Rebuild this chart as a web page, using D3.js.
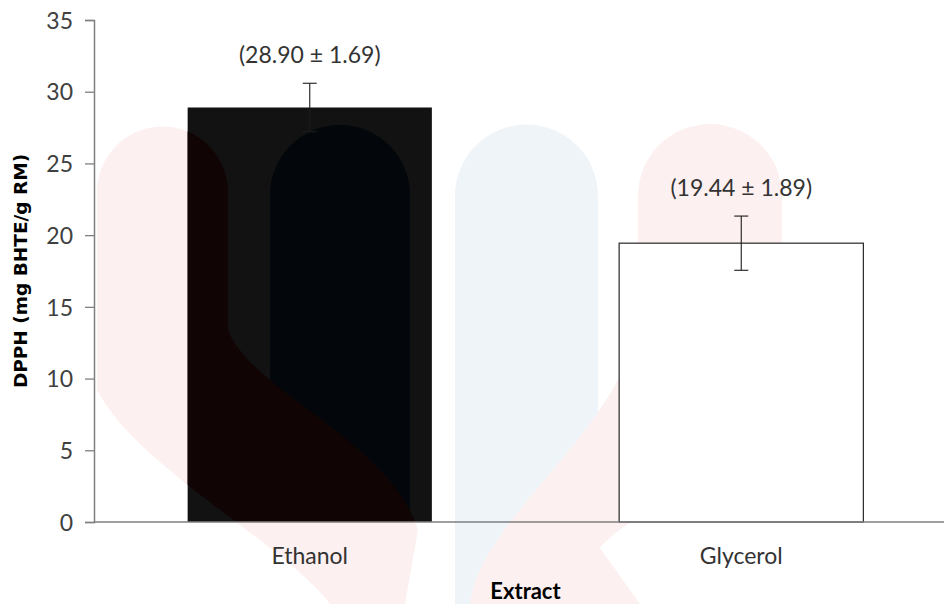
<!DOCTYPE html>
<html lang="en">
<head>
  <meta charset="UTF-8">
  <title>DPPH</title>
  <script src="https://cdn.jsdelivr.net/npm/d3@7"></script>
  <style>
    body{ margin:0; background:#fff; }
    .tick text{ font-family: Lato, "Open Sans", sans-serif; font-size:23px; fill:#404040; }
    .lbl{ font-family: Lato, "Open Sans", sans-serif; font-size:23px; fill:#333; }
  </style>
</head>
<body>
  <svg></svg>
  <script>

  var extracts = ["Ethanol", "Glycerol"],
    means = [28.90, 19.44],
    sds = [1.69, 1.89],
    fills = ["#121212", "#ffffff"],
    yTicks = [0, 5, 10, 15, 20, 25, 30, 35];

  var W = 944, H = 604,
    padL = 94, padT = 20, padB = 522, padR = 957;

  var svg = d3.select("svg").attr("width", W).attr("height", H);

  var x = d3.scaleBand().domain(extracts).range([padL, padR])
      .paddingInner(0.434).paddingOuter(0.217),
    y = d3.scaleLinear().domain([0, 35]).range([padB, padT]);

  // faint watermark behind the chart
  var mark = svg.append("g").attr("class", "watermark");
  function drawMark(g, pink, blue, dark) {
    if (dark) g.append("path").attr("fill", dark)
      .attr("d", "M270,195 A70,70 0 0 1 410,195 L410,522 L270,522 Z");
    g.append("path").attr("fill", blue)
      .attr("d", "M455,196 A71.5,71.5 0 0 1 598,196 L598,604 L455,604 Z");
    g.append("path").attr("fill", pink)
      .attr("d", "M97,192 A65.5,65.5 0 0 1 228,192 L228,330 C250,390 390,440 418,530 L405,604 L330,604 C280,540 140,470 97,390 Z");
    g.append("path").attr("fill", pink)
      .attr("d", "M638,196 A72,72 0 0 1 782,196 L782,390 C765,470 640,500 600,548 L640,604 L470,604 C480,520 610,440 638,330 Z");
  }
  drawMark(mark, "#fdf0f0", "#eff4f8", null);

  // y axis
  svg.append("g")
    .attr("transform", "translate(" + padL + ",0)")
    .call(d3.axisLeft(y).tickValues(yTicks).tickSize(9).tickPadding(12))
    .call(g => g.select(".domain").attr("stroke", "#7f7f7f").attr("stroke-width", 1.5))
    .call(g => g.selectAll(".tick line").attr("stroke", "#7f7f7f").attr("stroke-width", 1.3))
    .call(g => g.selectAll(".tick text").attr("dy", "0.36em"));

  // bars
  svg.selectAll("rect.bar").data(extracts).enter().append("rect")
    .attr("class", "bar")
    .attr("x", d => x(d))
    .attr("y", (d, i) => y(means[i]))
    .attr("width", x.bandwidth())
    .attr("height", (d, i) => y(0) - y(means[i]))
    .attr("fill", (d, i) => fills[i])
    .attr("stroke", (d, i) => i == 0 ? "none" : "#262626")
    .attr("stroke-width", 1.2);

  // watermark tint showing through the dark bar
  svg.append("clipPath").attr("id", "barclip").append("rect")
    .attr("x", x(extracts[0])).attr("y", y(means[0]))
    .attr("width", x.bandwidth()).attr("height", y(0) - y(means[0]));
  drawMark(svg.append("g").attr("clip-path", "url(#barclip)"), "#110404", "#121212", "#03070b");

  // x axis line
  svg.append("line")
    .attr("x1", padL).attr("x2", W).attr("y1", padB).attr("y2", padB)
    .attr("stroke", "#7f7f7f").attr("stroke-width", 1.5);

  // error bars
  var err = svg.selectAll("g.err").data(extracts).enter().append("g")
    .attr("class", "err")
    .attr("stroke", "#1c1c1c").attr("stroke-width", 1.1);
  err.append("line")
    .attr("x1", d => x(d) + x.bandwidth() / 2).attr("x2", d => x(d) + x.bandwidth() / 2)
    .attr("y1", (d, i) => y(means[i] - sds[i])).attr("y2", (d, i) => y(means[i] + sds[i]));
  [1, -1].forEach(function(s){
    err.append("line")
      .attr("x1", d => x(d) + x.bandwidth() / 2 - 7).attr("x2", d => x(d) + x.bandwidth() / 2 + 7)
      .attr("y1", (d, i) => y(means[i] + s * sds[i])).attr("y2", (d, i) => y(means[i] + s * sds[i]));
  });

  // value labels
  svg.selectAll("text.val").data(extracts).enter().append("text")
    .attr("class", "lbl val")
    .attr("x", d => x(d) + x.bandwidth() / 2)
    .attr("y", (d, i) => y(means[i] + sds[i]) - 20)
    .attr("text-anchor", "middle")
    .text((d, i) => "(" + means[i].toFixed(2) + " \u00b1 " + sds[i].toFixed(2) + ")");

  // category labels
  svg.selectAll("text.cat").data(extracts).enter().append("text")
    .attr("class", "lbl cat")
    .attr("x", d => x(d) + x.bandwidth() / 2)
    .attr("y", 564)
    .attr("text-anchor", "middle")
    .text(d => d);

  // axis titles
  svg.append("text")
    .attr("x", (padL + padR) / 2).attr("y", 599)
    .attr("text-anchor", "middle")
    .style("font-family", "Lato, sans-serif").style("font-weight", "bold").style("font-size", "22px")
    .text("Extract");

  svg.append("text")
    .attr("transform", "translate(27," + (padT + padB) / 2 + ")rotate(-90)")
    .attr("text-anchor", "middle")
    .style("font-family", "'DejaVu Sans', sans-serif").style("font-weight", "bold").style("font-size", "18.5px")
    .text("DPPH (mg BHTE/g RM)");

  </script>
</body>
</html>
